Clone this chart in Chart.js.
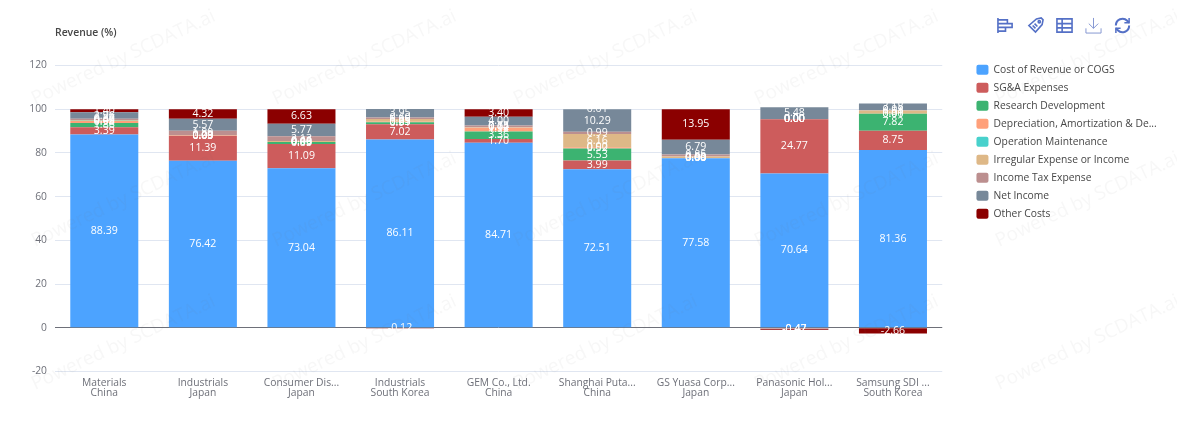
<!DOCTYPE html>
<html>
<head>
<meta charset="utf-8">
<script src="https://cdn.jsdelivr.net/npm/chart.js@4"></script>
<style>
html,body{margin:0;padding:0;background:#fff;overflow:hidden}
#wrap{position:relative;width:1177px;height:439px}
canvas{position:absolute;left:0;top:0}
svg.ic{position:absolute;top:17px;width:17px;height:17px;fill:none;stroke:#5470c6;stroke-width:1.7}
</style>
</head>
<body>
<div id="wrap">
<canvas id="c" width="1177" height="439"></canvas>
<svg class="ic" style="left:997px" viewBox="0 0 18 18"><path d="M1 1V17M1 3H11V7H1M1 7H16V11H1M1 11H9V15H1"/></svg>
<svg class="ic" style="left:1027px" viewBox="0 0 18 18"><path d="M2 9L10 2L15 1L17 3L16 8L9 16Z"/><circle cx="13" cy="5" r="1.2"/><path d="M6 9L9 12M8 7L11 10" /></svg>
<svg class="ic" style="left:1056px" viewBox="0 0 18 18"><path d="M1 2H17V16H1ZM1 7H17M1 11.5H17M6.5 2V16"/></svg>
<svg class="ic" style="left:1085px;stroke-width:1;stroke:#7f93d0" viewBox="0 0 18 18"><path d="M9 1V12M4 7L9 12L14 7M1 12V17H17V12"/></svg>
<svg class="ic" style="left:1114px;stroke-width:2.2" viewBox="0 0 18 18"><path d="M2 9A7 7 0 0 1 14 4L16 6M16 9A7 7 0 0 1 4 14L2 12"/><path d="M16 1V6H11M2 17V12H7" stroke-width="1.6"/></svg>
</div>
<script>
const yAxisTitle = 'Revenue (%)';
const watermark = 'Powered by SCDATA.ai';
const categories = [
  ['Materials','China'],['Industrials','Japan'],['Consumer Dis...','Japan'],
  ['Industrials','South Korea'],['GEM Co., Ltd.','China'],['Shanghai Puta...','China'],
  ['GS Yuasa Corp...','Japan'],['Panasonic Hol...','Japan'],['Samsung SDI ...','South Korea']
];
const seriesNames = ['Cost of Revenue or COGS','SG&A Expenses','Research Development','Depreciation, Amortization & De...','Operation Maintenance','Irregular Expense or Income','Income Tax Expense','Net Income','Other Costs'];
const seriesColors = ['#4CA3FF','#CD5C5C','#3CB371','#FFA07A','#48D1CC','#DEB887','#BC8F8F','#778899','#8B0000'];
const cogs      = [88.39,76.42,73.04,86.11,84.71,72.51,77.58,70.64,81.36];
const sga       = [3.39,11.39,11.09,7.02,1.70,3.99,0.00,24.77,8.75];
const rnd       = [1.86,0.09,0.85,0.91,3.36,5.53,0.00,0.00,7.82];
const depr      = [0.98,0.03,0.03,0.23,1.92,0.52,0.00,0.00,0.01];
const operation = [0.05,0.00,0.00,0.05,0.02,0.00,0.00,0.00,0.00];
const irregular = [0.40,0.29,0.46,1.25,0.14,6.16,0.83,0.00,1.51];
const incomeTax = [0.57,1.89,2.13,0.60,0.75,0.99,0.85,-0.42,0.03];
const netIncome = [2.96,5.57,5.77,3.95,4.00,10.29,6.79,5.48,3.18];
const otherCost = [1.40,4.32,6.63,-0.12,3.40,0.01,13.95,-0.47,-2.66];
const seriesValues = [cogs,sga,rnd,depr,operation,irregular,incomeTax,netIncome,otherCost];
const yMin = -20, yMax = 120, yStep = 20;
const FONT = '"Open Sans","Noto Sans",sans-serif';
const FS = 10.3;

const barLabels = {
  id:'barLabels',
  afterDatasetsDraw(chart){
    const {ctx} = chart;
    ctx.save();
    ctx.font = '10.6px '+FONT;
    ctx.fillStyle = '#fff';
    ctx.textAlign = 'center';
    ctx.textBaseline = 'middle';
    chart.data.datasets.forEach((ds,i)=>{
      chart.getDatasetMeta(i).data.forEach((el,j)=>{
        const p = el.getProps(['x','y','base'],true);
        ctx.fillText(ds.data[j].toFixed(2), p.x, (p.y+p.base)/2);
      });
    });
    ctx.restore();
  }
};
const decorations = {
  id:'decorations',
  afterDraw(chart){
    const {ctx} = chart;
    ctx.save();
    ctx.font = '600 10.4px '+FONT;
    ctx.fillStyle = '#464646';
    ctx.textBaseline = 'middle';
    ctx.fillText(yAxisTitle, 55, 33.5);
    ctx.font = '19px '+FONT;
    ctx.fillStyle = 'rgba(120,120,120,0.06)';
    ctx.textAlign = 'left';
    ctx.textBaseline = 'alphabetic';
    [105,247,390].forEach(y=>{
      [35,276,517,758,999].forEach(x=>{
        ctx.save();
        ctx.translate(x,y);
        ctx.rotate(-25*Math.PI/180);
        ctx.fillText(watermark,0,0);
        ctx.restore();
      });
    });
    ctx.restore();
  }
};

new Chart(document.getElementById('c'),{
  type:'bar',
  data:{
    labels:categories,
    datasets:seriesNames.map((n,i)=>({
      label:n,
      data:seriesValues[i],
      backgroundColor:seriesColors[i],
      stack:'a',
      xAxisID:'x',
      yAxisID:'y',
      categoryPercentage:1,
      barPercentage:0.69
    }))
  },
  options:{
    responsive:false,
    animation:false,
    layout:{padding:{top:57,left:0,right:14.5,bottom:34.5}},
    plugins:{
      tooltip:{enabled:false},
      legend:{
        position:'right',
        align:'start',
        labels:{
          boxWidth:12,boxHeight:10,
          useBorderRadius:true,borderRadius:2,
          padding:7.7,
          color:'#464646',
          font:{family:FONT,size:FS}
        }
      }
    },
    scales:{
      x:{
        stacked:true,
        grid:{display:false,drawTicks:false},
        border:{display:false},
        ticks:{color:'#6E7079',font:{family:FONT,size:FS,lineHeight:0.97},padding:6.5,maxRotation:0,autoSkip:false}
      },
      topSpacer:{
        type:'linear',axis:'x',position:'top',
        afterFit(s){s.height=8.5;},
        grid:{display:false,drawTicks:false},border:{display:false},ticks:{display:false}
      },
      y:{
        stacked:true,
        min:yMin,max:yMax,
        afterFit(s){s.width=55;},
        ticks:{stepSize:yStep,color:'#6E7079',font:{family:FONT,size:FS},padding:8},
        border:{display:false},
        grid:{drawTicks:false,color:c=>c.tick.value===0?'#6E7079':'#E0E6F1'}
      },
      rightSpacer:{
        type:'linear',axis:'y',position:'right',
        afterFit(s){s.width=26.5;},
        grid:{display:false,drawTicks:false},border:{display:false},ticks:{display:false}
      }
    }
  },
  plugins:[barLabels,decorations]
});
</script>
</body>
</html>
